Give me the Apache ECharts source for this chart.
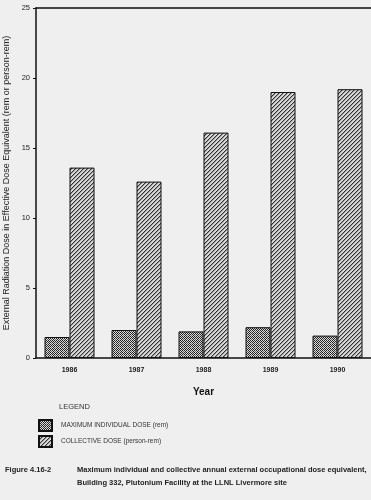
<!DOCTYPE html>
<html>
<head>
<meta charset="utf-8">
<script src="https://cdn.jsdelivr.net/npm/echarts@6/dist/echarts.min.js"></script>
<style>
html,body{margin:0;padding:0;background:#efefef;}
#chart{width:371px;height:500px;}
</style>
</head>
<body>
<div id="chart"></div>
<script>
const years = ['1986', '1987', '1988', '1989', '1990'];
const maxIndividualDose = [1.5, 2.0, 1.9, 2.2, 1.6];
const collectiveDose = [13.6, 12.6, 16.1, 19.0, 19.2];
const yTicks = [0, 5, 10, 15, 20, 25];

function crossPattern() {
  const c = document.createElement('canvas');
  c.width = 4; c.height = 4;
  const g = c.getContext('2d');
  g.fillStyle = '#d8d8d8'; g.fillRect(0, 0, 4, 4);
  g.fillStyle = '#222';
  g.fillRect(0, 0, 1, 1); g.fillRect(2, 0, 1, 1);
  g.fillRect(1, 1, 1, 1); g.fillRect(3, 1, 1, 1);
  g.fillRect(0, 2, 1, 1); g.fillRect(2, 2, 1, 1);
  g.fillRect(1, 3, 1, 1);
  g.fillStyle = '#666'; g.fillRect(3, 3, 1, 1);
  return c;
}
function hatchPattern() {
  const c = document.createElement('canvas');
  c.width = 4; c.height = 4;
  const g = c.getContext('2d');
  g.fillStyle = '#d8d8d8'; g.fillRect(0, 0, 4, 4);
  g.fillStyle = '#333';
  for (let i = 0; i < 4; i++) { g.fillRect(i, 3 - i, 1, 1); }
  g.fillStyle = '#999';
  for (let i = 0; i < 4; i++) { g.fillRect((i + 1) % 4, 3 - i, 1, 1); }
  return c;
}

const font = 'Liberation Sans';
const chart = echarts.init(document.getElementById('chart'), null, {renderer: 'canvas'});
chart.setOption({
  backgroundColor: '#efefef',
  animation: false,
  textStyle: {fontFamily: font},
  grid: {left: 36, right: 0, top: 8, bottom: 142, outerBoundsMode: 'none', containLabel: false},
  legend: {
    orient: 'vertical', left: 33, top: 414, itemWidth: 13, itemHeight: 11, itemGap: 3,
    icon: 'rect',
    textStyle: {fontFamily: font, fontSize: 6.5, color: '#333', padding: [0, 0, 0, 4]},
    data: [
      {name: 'MAXIMUM INDIVIDUAL DOSE (rem)'},
      {name: 'COLLECTIVE DOSE (person-rem)'}
    ]
  },
  xAxis: [{
    type: 'category', data: years, position: 'bottom',
    axisLine: {lineStyle: {color: '#111', width: 1.5}},
    axisTick: {show: false},
    axisLabel: {fontSize: 7, fontWeight: 'bold', color: '#222', margin: 9},
    name: 'Year', nameLocation: 'middle', nameGap: 29,
    nameTextStyle: {fontSize: 10, fontWeight: 'bold', color: '#111'}
  }, {
    type: 'category', data: years, position: 'top',
    axisLine: {lineStyle: {color: '#111', width: 1.5}},
    axisTick: {show: false}, axisLabel: {show: false}
  }],
  yAxis: {
    type: 'value', min: 0, max: 25, interval: 5,
    axisLine: {show: true, lineStyle: {color: '#111', width: 1.5}},
    axisTick: {show: true, length: 3, lineStyle: {color: '#111'}},
    axisLabel: {fontSize: 7.5, color: '#222', margin: 6,
      formatter: v => yTicks.includes(v) ? String(v) : ''},
    splitLine: {show: false},
    name: 'External Radiation Dose in Effective Dose Equivalent (rem or person-rem)',
    nameLocation: 'middle', nameGap: 23, nameRotate: 90,
    nameTextStyle: {fontSize: 9, color: '#222'}
  },
  series: [{
    name: 'MAXIMUM INDIVIDUAL DOSE (rem)', type: 'bar', data: maxIndividualDose,
    barWidth: 25, barGap: '0%',
    itemStyle: {color: {image: crossPattern(), repeat: 'repeat'}, borderColor: '#111', borderWidth: 1}
  }, {
    name: 'COLLECTIVE DOSE (person-rem)', type: 'bar', data: collectiveDose,
    barWidth: 25, barGap: '0%',
    itemStyle: {color: {image: hatchPattern(), repeat: 'repeat'}, borderColor: '#111', borderWidth: 1}
  }],
  graphic: [
    {type: 'text', left: 59, top: 403, style: {text: 'LEGEND', fontFamily: font, fontSize: 7.5, fill: '#333'}},
    {type: 'text', left: 5, top: 466, style: {text: 'Figure 4.16-2', fontFamily: font, fontSize: 7.5, fontWeight: 'bold', fill: '#222'}},
    {type: 'text', left: 77, top: 466, style: {text: 'Maximum individual and collective annual external occupational dose equivalent,', fontFamily: font, fontSize: 7.5, fontWeight: 'bold', fill: '#222'}},
    {type: 'text', left: 77, top: 479, style: {text: 'Building 332, Plutonium Facility at the LLNL Livermore site', fontFamily: font, fontSize: 7.5, fontWeight: 'bold', fill: '#222'}}
  ]
});
</script>
</body>
</html>
